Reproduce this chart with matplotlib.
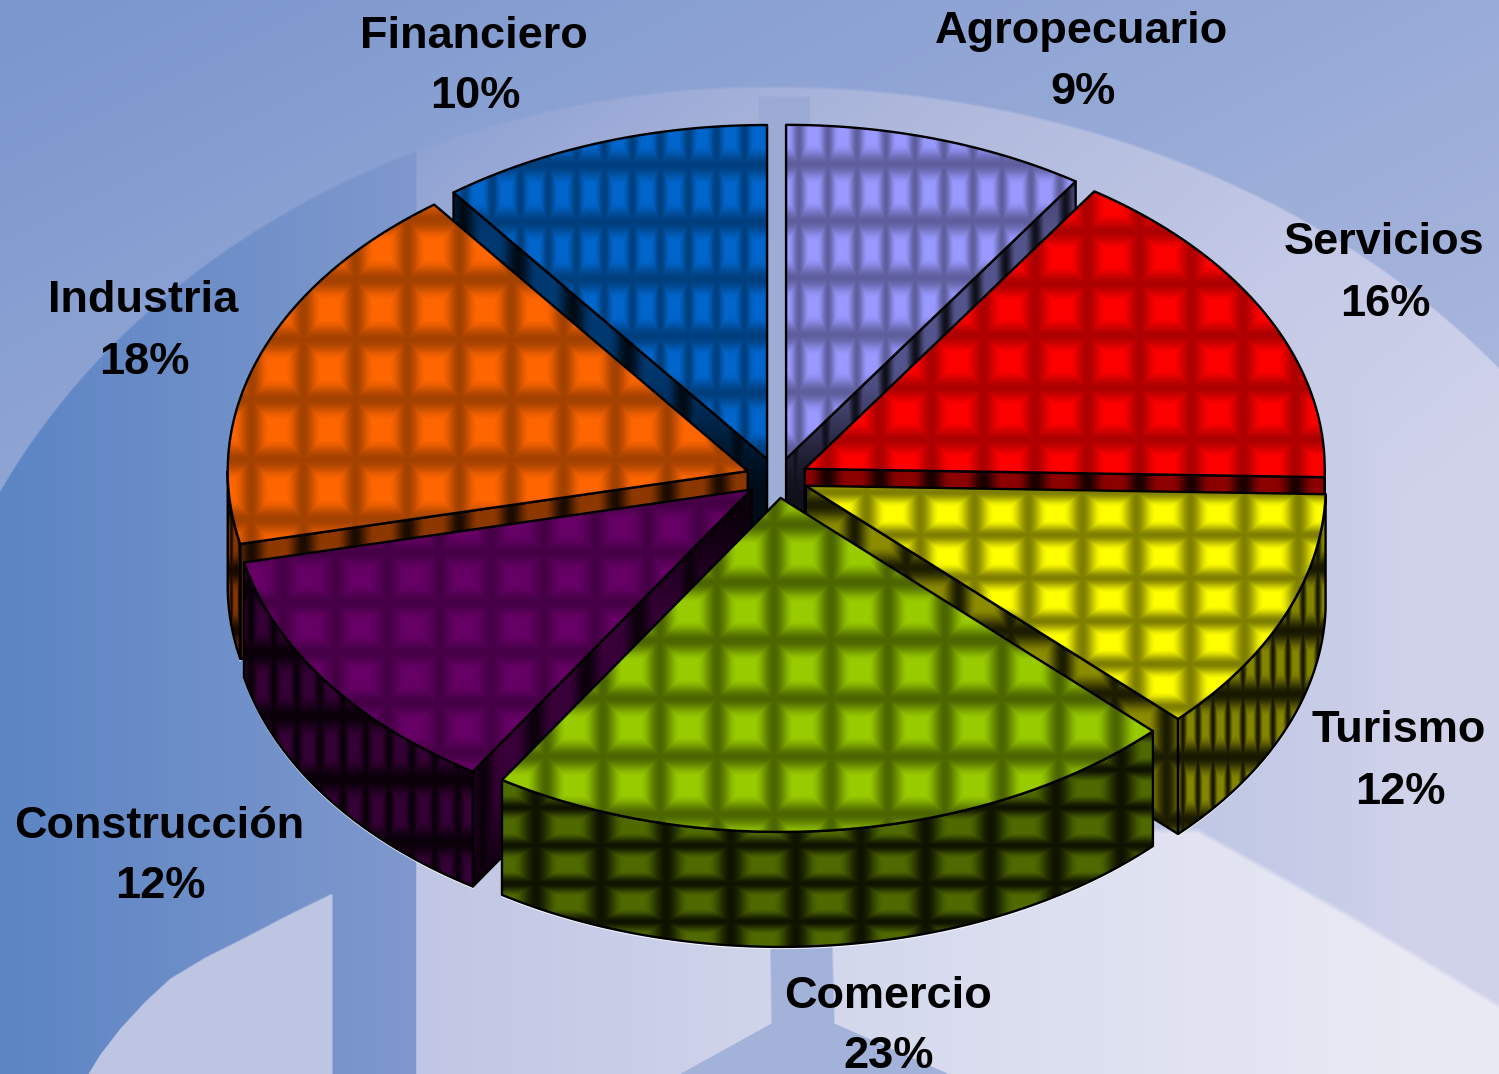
import numpy as np
import matplotlib
matplotlib.use('Agg')
import matplotlib.pyplot as plt
from matplotlib.patches import Polygon

plt.rcParams['font.family'] = ['Liberation Sans', 'DejaVu Sans']

# data
sectors = ['Agropecuario', 'Servicios', 'Turismo', 'Comercio', 'Construcción', 'Industria', 'Financiero']
pct_labels = [9, 16, 12, 23, 12, 18, 10]
# slice shares as measured on the picture
shares = [9.4, 16.0, 11.9, 21.7, 12.5, 18.2, 10.3]
colors = ['#9999FF', '#FF0000', '#FFFF00', '#99CC00', '#660066', '#FF6600', '#0066CC']

# label centres (first line, pixels)
label_xy = [(1082, 32), (1384, 243), (1399, 731), (888, 996), (159, 826), (143, 301), (474, 36)]

# pie layout in pixels
W, H = 1499, 1074
CX, CY = 777, 478
RX, RY = 520, 334
EXPLODE = 0.06
DEPTH = 115

# top face tile: width, height, bright centre x, y, line darkness
top_tiles = [(29, 57, 813, 192, 0.62), (52, 52, 1113, 257, 0.68), (54, 43, 1163, 685, 0.5),
             (57, 58, 1087, 727, 0.5), (52, 50, 413, 627, 0.68), (52, 60, 433, 249, 0.64),
             (28, 57, 730, 193, 0.62)]
# outer wall tile: width, height, centre x, y
wall_tiles = [(30, 60, 900, 400), (52, 60, 1113, 520), (15, 63, 1190, 725),
              (65, 38, 633, 826), (23, 63, 400, 810), (8, 60, 235, 600), (28, 60, 600, 300)]
# radial wall tile
radial_tiles = [(30, 400, 900, 300), (52, 400, 1113, 480), (52, 63, 1140, 725),
                (57, 400, 700, 700), (52, 400, 560, 700), (52, 400, 433, 550), (55, 400, 600, 300)]
# far slices first
draw_order = [6, 0, 1, 5, 2, 4, 3]


def lerp(c0, c1, t):
    c0 = np.array(matplotlib.colors.to_rgb(c0))
    c1 = np.array(matplotlib.colors.to_rgb(c1))
    return c0 + (c1 - c0) * t[..., None]


def ramp(t, stops, cols):
    rgb = np.array([matplotlib.colors.to_rgb(c) for c in cols])
    return np.stack([np.interp(t, stops, rgb[:, k]) for k in range(3)], axis=-1)


def background():
    y, x = np.mgrid[0:H, 0:W].astype(float)
    # area above the dome
    t = np.clip(0.6 * x / W + 0.4 * y / 500, 0, 1)
    img = lerp('#7a96cd', '#aebadf', t)

    # dome edge: half ellipse with a wider right half
    a = np.where(x > 770, 916.0, 855.0)
    arc = 800 - 715 * np.sqrt(np.clip(1 - ((x - 770) / a) ** 2, 0, 1))
    under = np.clip((y - arc) / 3, 0, 1)[..., None]
    light = ramp(x + 1.2 * y, [600, 700, 1032, 1590, 2000],
                 ['#8fa3d3', '#98a8d6', '#aeb8dc', '#c3c9e6', '#d0d2ea'])
    right = ramp(x, [1000, 1150, 1250, 1340, 1400, 1450, 1499],
                 ['#c0c6e4', '#bfc6e4', '#c3cae6', '#c9cde8', '#d0d2ea', '#d3d5eb', '#d6d8ed'])
    light = np.minimum(light, right)
    # blue part on the left
    blue = lerp('#5c85c4', '#7f98cd', np.clip(x / 415, 0, 1))
    left_edge = np.clip((x - 415) / 2, 0, 1)[..., None]
    dome = blue * (1 - left_edge) + light * left_edge
    # light shape lower left
    curve = np.interp(x[0], [87, 100, 120, 145, 170, 205, 243, 285, 330],
                      [1074, 1053, 1027, 1000, 977, 956, 937, 915, 893])
    lower_left = (np.clip((y - curve[None, :]) / 2, 0, 1) * np.clip((333 - x) / 2, 0, 1) * (x > 87))[..., None]
    dome = dome * (1 - lower_left) + np.array(matplotlib.colors.to_rgb('#bdc5e3')) * lower_left
    img = img * (1 - under) + dome * under

    # lighter area along the bottom, its edge runs to the lower right
    edge = np.interp(x[0], [1197, 1350, 1499], [827, 913, 1003])
    lower = (np.clip((y - edge[None, :]) / 6, 0, 1) * np.clip((x - 415) / 2, 0, 1))[..., None]
    low_col = ramp(x, [415, 1000, 1400], ['#c0c6e4', '#dadeef', '#e9e9f4'])
    img = img * (1 - lower) + low_col * lower

    # centre bar of the logo, flaring at the bottom
    bar_l = 757 + (y - 95) * 13 / 928
    bar_r = 810 + (y - 95) * 25 / 928
    bar_l = np.where(y > 1023, bar_l - (y - 1023) * 93 / 51, bar_l)
    bar_r = np.where(y > 1023, bar_r + (y - 1023) * 114 / 51, bar_r)
    bar = np.clip((x - bar_l) / 2, 0, 1) * np.clip((bar_r - x) / 2, 0, 1) * np.clip((y - 95) / 2, 0, 1)
    bar_col = lerp('#9aaad4', '#a3b3da', y / H)
    img = img * (1 - bar[..., None]) + bar_col * bar[..., None]
    return np.clip(img, 0, 1)


def tile_image(color, box, tile, low):
    # pillow pattern: bright in the middle of a tile, dark on its borders
    x0, x1, y0, y1 = box
    y, x = np.mgrid[y0:y1, x0:x1].astype(float)
    tw, th, ox, oy = tile[:4]
    u = ((x - ox) / tw + 0.5) % 1 * 2 - 1
    v = ((y - oy) / th + 0.5) % 1 * 2 - 1
    e = np.maximum(np.abs(u), np.abs(v))
    s = np.clip((e - 0.28) / 0.72, 0, 1)
    s = s * s * (3 - 2 * s)
    shade = 1 - (1 - low) * s
    rgb = np.array(matplotlib.colors.to_rgb(color))
    return np.clip(shade[..., None] * rgb, 0, 1)


def textured(ax, pts, color, tile, low, base, z):
    # texture image clipped to a polygon, outline on top
    pts = np.asarray(pts)
    box = (int(pts[:, 0].min()) - 1, int(pts[:, 0].max()) + 2,
           int(pts[:, 1].min()) - 1, int(pts[:, 1].max()) + 2)
    rgb = np.array(matplotlib.colors.to_rgb(color)) * base
    im = ax.imshow(tile_image(rgb, box, tile, low), extent=(box[0], box[1], box[3], box[2]),
                   aspect='auto', interpolation='bilinear', zorder=z)
    clip = Polygon(pts, closed=True, transform=ax.transData, fill=False, edgecolor='none')
    ax.add_patch(clip)
    im.set_clip_path(clip)
    ax.add_patch(Polygon(pts, closed=True, fill=False, edgecolor='black', linewidth=1.7,
                         joinstyle='round', zorder=z + 0.5))


fig = plt.figure(figsize=(W / 100, H / 100), dpi=100)
ax = fig.add_axes([0, 0, 1, 1])
ax.imshow(background(), extent=(0, W, H, 0), aspect='auto', zorder=0)

edges = np.concatenate([[0], np.cumsum(shares)]) / np.sum(shares) * 2 * np.pi
z = 1
for i in draw_order:
    a0, a1 = edges[i], edges[i + 1]
    mid = (a0 + a1) / 2
    ax0 = CX + EXPLODE * RX * np.sin(mid)
    ay0 = CY - EXPLODE * RY * np.cos(mid)
    theta = np.linspace(a0, a1, 120)
    arc = np.column_stack([ax0 + RX * np.sin(theta), ay0 - RY * np.cos(theta)])
    apex = np.array([ax0, ay0])
    drop = np.array([0, DEPTH])

    # radial side walls, only those that face down
    if np.sin(a0) < -1e-6:
        quad = [apex, arc[0], arc[0] + drop, apex + drop]
        textured(ax, quad, colors[i], radial_tiles[i], 0.2, 0.55, z)
        z += 1
    if np.sin(a1) > 1e-6:
        quad = [apex, arc[-1], arc[-1] + drop, apex + drop]
        textured(ax, quad, colors[i], radial_tiles[i], 0.2, 0.55, z)
        z += 1

    # outer wall, only the part facing the viewer
    lo, hi = max(a0, np.pi / 2), min(a1, 3 * np.pi / 2)
    if hi > lo:
        t = np.linspace(lo, hi, 120)
        top = np.column_stack([ax0 + RX * np.sin(t), ay0 - RY * np.cos(t)])
        bottom = top + drop
        textured(ax, np.vstack([top, bottom[::-1]]), colors[i], wall_tiles[i], 0.18, 0.52, z)
        ax.plot(bottom[:, 0], bottom[:, 1] + 1.6, color='white', lw=1, alpha=0.8, zorder=z - 0.2)
        z += 1

    # top face
    textured(ax, np.vstack([apex, arc]), colors[i], top_tiles[i], top_tiles[i][4], 1.0, z)
    z += 1

for name, pct, (lx, ly) in zip(sectors, pct_labels, label_xy):
    ax.text(lx, ly, name, ha='center', va='center', fontsize=32.5, fontweight='bold', color='black', zorder=z)
    ax.text(lx + 1, ly + 61, f'{pct}%', ha='center', va='center', fontsize=32.5, fontweight='bold',
            color='black', zorder=z, clip_on=False)

ax.set_xlim(0, W)
ax.set_ylim(H, 0)
ax.axis('off')
fig.savefig('out.png', dpi=100)
